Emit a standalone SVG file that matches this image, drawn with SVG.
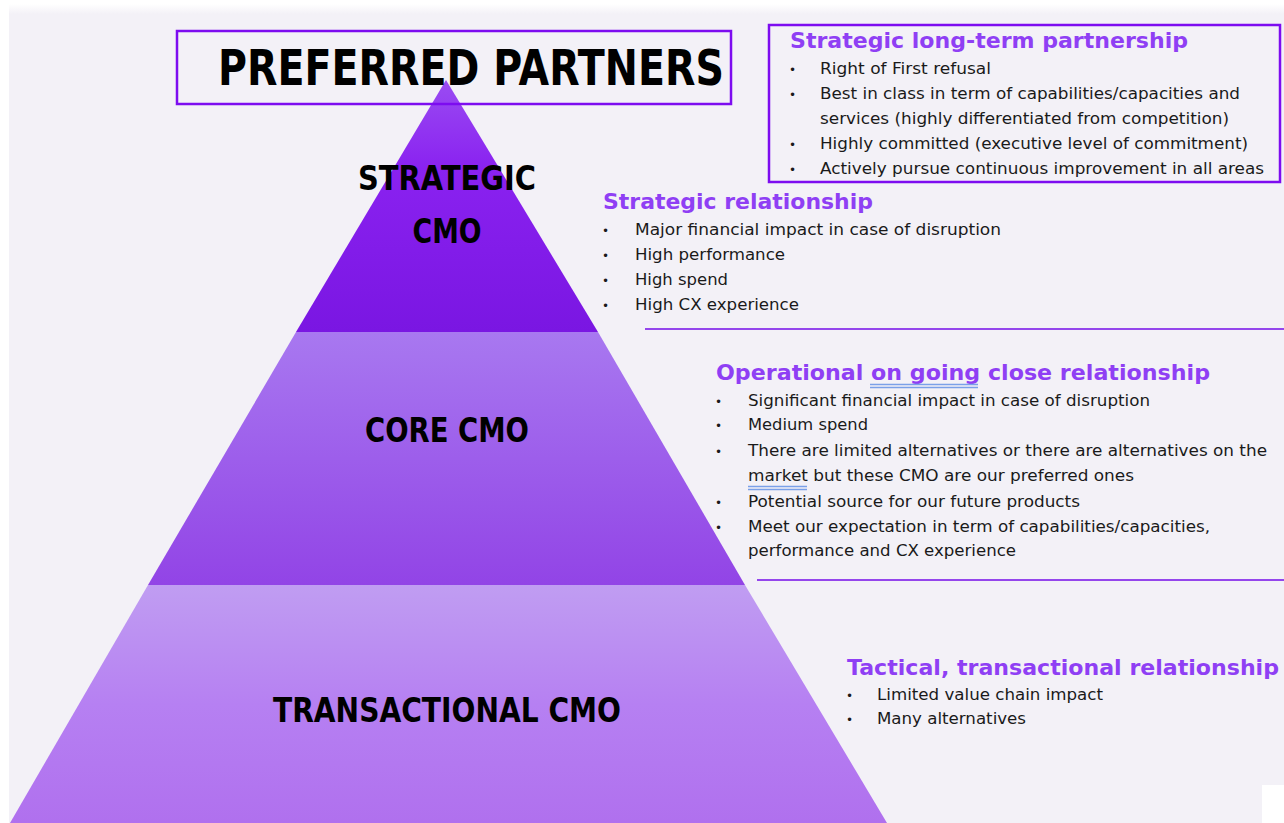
<svg xmlns="http://www.w3.org/2000/svg" width="1284" height="823" viewBox="0 0 1284 823">
  <defs>
    <linearGradient id="gTop" x1="0" y1="0" x2="0" y2="1">
      <stop offset="0" stop-color="#9a4cf2"/>
      <stop offset="0.35" stop-color="#8a22f0"/>
      <stop offset="1" stop-color="#7a16e2"/>
    </linearGradient>
    <linearGradient id="gMid" x1="0" y1="0" x2="0" y2="1">
      <stop offset="0" stop-color="#a878f0"/>
      <stop offset="1" stop-color="#9244e6"/>
    </linearGradient>
    <linearGradient id="gBot" x1="0" y1="0" x2="0" y2="1">
      <stop offset="0" stop-color="#c09df2"/>
      <stop offset="0.5" stop-color="#b680f2"/>
      <stop offset="1" stop-color="#b070ee"/>
    </linearGradient>
    <linearGradient id="gShade" x1="0" y1="0" x2="0" y2="1">
      <stop offset="0" stop-color="#ffffff"/>
      <stop offset="1" stop-color="#f3f1f7"/>
    </linearGradient>
    <style>
      .tier-label { font-family: "DejaVu Sans", "Liberation Sans", sans-serif; font-weight: bold; fill: #000; text-anchor: middle; }
      .head { font-family: "DejaVu Sans", "Liberation Sans", sans-serif; font-weight: bold; fill: #8f3ff4; font-size: 22px; }
      .item { font-family: "DejaVu Sans", "Liberation Sans", sans-serif; fill: #1a1a1a; font-size: 16px; }
      .dot { font-size: 12px; }
      .frame { fill: none; stroke: #7d0cf0; stroke-width: 2.5; }
      .rule { stroke: #9446ec; stroke-width: 2; }
      .spell { stroke: #7aa0e8; stroke-width: 1.5; fill: none; }
    </style>
  </defs>

  <!-- page -->
  <rect x="0" y="0" width="1284" height="823" fill="#ffffff"/>
  <rect x="9" y="6" width="1275" height="817" fill="#f3f1f7"/>
  <rect x="9" y="4" width="1275" height="10" fill="url(#gShade)"/>
  <rect x="1262" y="785" width="22" height="38" fill="#ffffff"/>

  <!-- pyramid tiers -->
  <g id="tier-transactional">
    <polygon points="148,585 745,585 887,823 10,823" fill="url(#gBot)"/>
    <text class="tier-label" x="447" y="722" font-size="33" textLength="348" lengthAdjust="spacingAndGlyphs">TRANSACTIONAL CMO</text>
  </g>
  <g id="tier-core">
    <polygon points="296,332 598,332 745,585 148,585" fill="url(#gMid)"/>
    <text class="tier-label" x="447" y="442" font-size="33" textLength="164" lengthAdjust="spacingAndGlyphs">CORE CMO</text>
  </g>
  <g id="tier-strategic">
    <polygon points="446,80 598,332 296,332" fill="url(#gTop)"/>
    <text class="tier-label" x="447" y="190" font-size="34" textLength="178" lengthAdjust="spacingAndGlyphs">STRATEGIC</text>
    <text class="tier-label" x="447" y="243" font-size="34" textLength="69" lengthAdjust="spacingAndGlyphs">CMO</text>
  </g>

  <!-- title -->
  <g id="title">
    <rect class="frame" x="177" y="31" width="554" height="73"/>
    <text x="218" y="85" font-family="DejaVu Sans, Liberation Sans, sans-serif" font-weight="bold" font-size="50" fill="#000" textLength="506" lengthAdjust="spacingAndGlyphs">PREFERRED PARTNERS</text>
  </g>

  <!-- strategic long-term partnership -->
  <g id="block-partnership">
    <rect class="frame" x="769" y="25" width="511" height="157"/>
    <text class="head" x="790" y="48" textLength="398" lengthAdjust="spacingAndGlyphs">Strategic long-term partnership</text>
    <text class="item" y="74"><tspan class="dot" x="789">•</tspan><tspan x="820" textLength="171" lengthAdjust="spacingAndGlyphs">Right of First refusal</tspan></text>
    <text class="item" y="99"><tspan class="dot" x="789">•</tspan><tspan x="820" textLength="420" lengthAdjust="spacingAndGlyphs">Best in class in term of capabilities/capacities and</tspan></text>
    <text class="item" x="820" y="124" textLength="409" lengthAdjust="spacingAndGlyphs">services (highly differentiated from competition)</text>
    <text class="item" y="149"><tspan class="dot" x="789">•</tspan><tspan x="820" textLength="428" lengthAdjust="spacingAndGlyphs">Highly committed (executive level of commitment)</tspan></text>
    <text class="item" y="174"><tspan class="dot" x="789">•</tspan><tspan x="820" textLength="444" lengthAdjust="spacingAndGlyphs">Actively pursue continuous improvement in all areas</tspan></text>
  </g>

  <!-- strategic relationship -->
  <g id="block-strategic">
    <text class="head" x="603" y="209" textLength="270" lengthAdjust="spacingAndGlyphs">Strategic relationship</text>
    <text class="item" y="235"><tspan class="dot" x="602">•</tspan><tspan x="635" textLength="366" lengthAdjust="spacingAndGlyphs">Major  financial impact in case of disruption</tspan></text>
    <text class="item" y="260"><tspan class="dot" x="602">•</tspan><tspan x="635" textLength="150" lengthAdjust="spacingAndGlyphs">High performance</tspan></text>
    <text class="item" y="285"><tspan class="dot" x="602">•</tspan><tspan x="635" textLength="93" lengthAdjust="spacingAndGlyphs">High spend</tspan></text>
    <text class="item" y="310"><tspan class="dot" x="602">•</tspan><tspan x="635" textLength="164" lengthAdjust="spacingAndGlyphs">High CX experience</tspan></text>
  </g>

  <!-- operational relationship -->
  <g id="block-operational">
    <text class="head" x="716" y="380" textLength="494" lengthAdjust="spacingAndGlyphs">Operational on going close relationship</text>
    <path class="spell" d="M870,384.5 H978 M870,387.5 H978"/>
    <text class="item" y="406"><tspan class="dot" x="715">•</tspan><tspan x="748" textLength="402" lengthAdjust="spacingAndGlyphs">Significant financial impact in case of disruption</tspan></text>
    <text class="item" y="430"><tspan class="dot" x="715">•</tspan><tspan x="748" textLength="120" lengthAdjust="spacingAndGlyphs">Medium spend</tspan></text>
    <text class="item" y="456"><tspan class="dot" x="715">•</tspan><tspan x="748" textLength="519" lengthAdjust="spacingAndGlyphs">There are limited alternatives or there are alternatives on the</tspan></text>
    <text class="item" x="748" y="481" textLength="386" lengthAdjust="spacingAndGlyphs">market but these CMO are our preferred ones</text>
    <path class="spell" d="M748,486.5 H807 M748,489.5 H807"/>
    <text class="item" y="507"><tspan class="dot" x="715">•</tspan><tspan x="748" textLength="332" lengthAdjust="spacingAndGlyphs">Potential source for our future products</tspan></text>
    <text class="item" y="532"><tspan class="dot" x="715">•</tspan><tspan x="748" textLength="462" lengthAdjust="spacingAndGlyphs">Meet our expectation in term of capabilities/capacities,</tspan></text>
    <text class="item" x="748" y="556" textLength="268" lengthAdjust="spacingAndGlyphs">performance and CX experience</text>
  </g>

  <!-- tactical relationship -->
  <g id="block-tactical">
    <text class="head" x="847" y="675" textLength="432" lengthAdjust="spacingAndGlyphs">Tactical, transactional relationship</text>
    <text class="item" y="700"><tspan class="dot" x="846">•</tspan><tspan x="877" textLength="226" lengthAdjust="spacingAndGlyphs">Limited value chain impact</tspan></text>
    <text class="item" y="724"><tspan class="dot" x="846">•</tspan><tspan x="877" textLength="149" lengthAdjust="spacingAndGlyphs">Many alternatives</tspan></text>
  </g>

  <!-- separator lines -->
  <g id="connectors">
    <line class="rule" x1="645" y1="329" x2="1284" y2="329"/>
    <line class="rule" x1="757" y1="580" x2="1284" y2="580"/>
  </g>
</svg>
